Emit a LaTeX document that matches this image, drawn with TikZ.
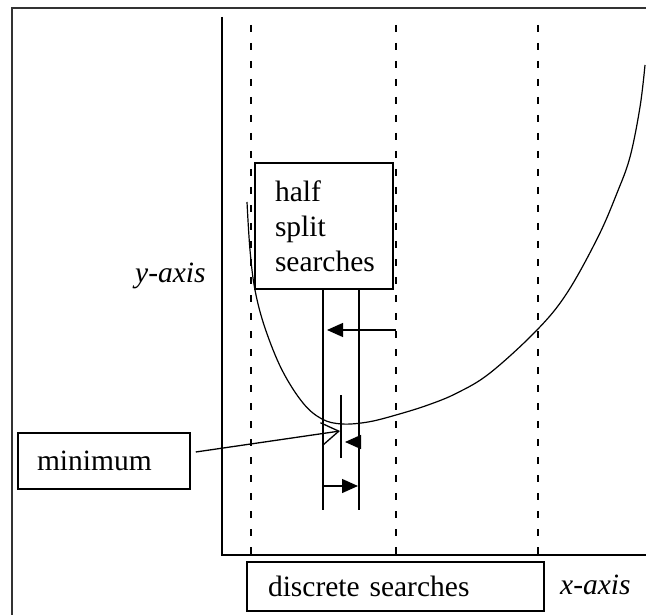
\documentclass[tikz,border=0pt]{standalone}
\usepackage{fontspec}
\setmainfont{Liberation Serif}
\usetikzlibrary{arrows.meta}
\begin{document}
\begin{tikzpicture}[x=1pt,y=-1pt,
  ln/.style={line width=1.3pt,black},
  frameln/.style={line width=2pt,black!80},
  dashln/.style={line width=1.5pt,dash pattern=on 7pt off 11pt},
  boxnode/.style={draw,line width=1.5pt,fill=white,align=left,
    font=\fontsize{29.5}{35}\selectfont},
  lbl/.style={font=\fontsize{29.5}{35}\selectfont\itshape,inner sep=0pt,anchor=base west},
  solidtip/.style={-{Triangle[length=16pt,width=14pt]}},
  opentip/.style={-{Straight Barb[length=17pt,width=22pt,line width=1.3pt]}}
]
\useasboundingbox (0,0) rectangle (646,615);
% frame
\draw[frameln] (12,615) -- (12,8) -- (646,8);
% axes
\coordinate (ytop) at (222,17);
\coordinate (org) at (222,555);
\coordinate (xend) at (646,555);
\draw[ln] (ytop) -- (org) -- (xend);
% dashed discrete search lines
\foreach \x in {251,396,538} {
  \draw[dashln] (\x,25) -- (\x,555);
}
% curve
\draw[line width=1.2pt] plot[smooth,tension=0.6] coordinates {
 (247,202) (250,250) (255,290) (265,328) (282,370) (303,403)
 (322,419) (342,424) (368,422) (396,415) (428,405) (457,393)
 (490,373) (537,330) (567,293) (598,237) (617,193) (630,157)
 (640,107) (645,65)};
% half split box
\node[boxnode,minimum width=138pt,minimum height=126pt,text width=98pt,
  inner xsep=20pt] (hs) at (324,226) {half\\split\\searches};
% vertical lines under box
\coordinate (v1t) at (323,289); \coordinate (v1b) at (323,510);
\coordinate (v2t) at (359,289); \coordinate (v2b) at (359,510);
\draw[ln] (v1t) -- (v1b);
\draw[ln] (v2t) -- (v2b);
% short vertical line
\coordinate (st) at (341,395); \coordinate (sb) at (341,458);
\draw[ln] (st) -- (sb);
% arrows
\coordinate (a1s) at (396,330); \coordinate (a1e) at (327,330);
\draw[ln,solidtip] (a1s) -- (a1e);
\coordinate (a2s) at (359,442); \coordinate (a2e) at (345,442);
\draw[ln,solidtip] (a2s) -- (a2e);
\coordinate (a3s) at (323,486); \coordinate (a3e) at (358,486);
\draw[ln,solidtip] (a3s) -- (a3e);
% minimum box
\node[boxnode,minimum width=172pt,minimum height=56pt,text width=134pt,
  inner xsep=19pt,inner ysep=0pt] (mini) at (104,461) {minimum};
\coordinate (minpt) at (340,431);
\draw[ln,opentip] ([xshift=5pt,yshift=9pt]mini.east) -- (minpt);
% discrete searches box
\node[boxnode,minimum width=297pt,minimum height=49pt,text width=255pt,
  inner xsep=21pt,inner ysep=0pt] (ds) at (395.5,586.5) {discrete searches};
% axis labels
\node[lbl] (xl) at (560,594) {x-axis};
\node[lbl] (yl) at (135,283) {y-axis};
\end{tikzpicture}
\end{document}
